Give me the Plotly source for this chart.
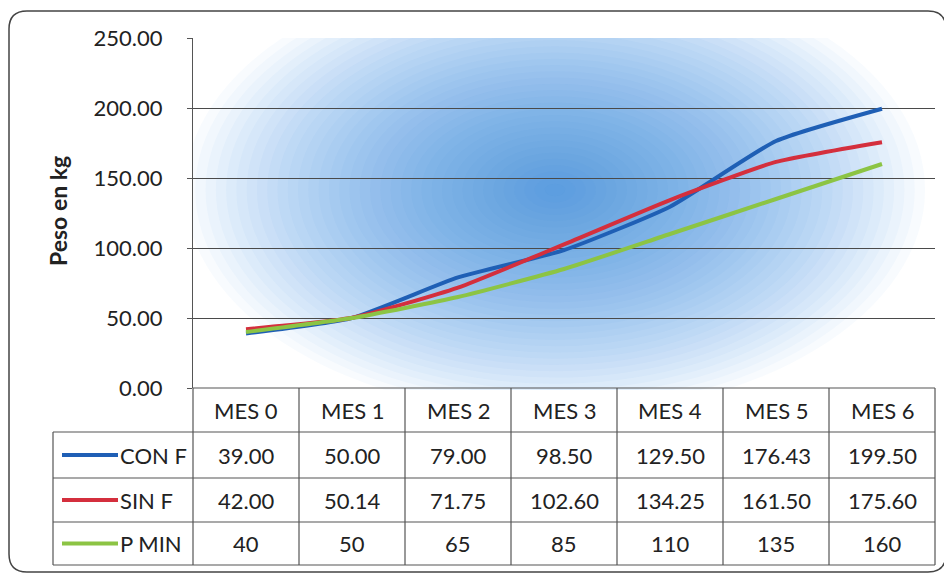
import plotly.graph_objects as go

# ---------------- data ----------------
categories = ["MES 0", "MES 1", "MES 2", "MES 3", "MES 4", "MES 5", "MES 6"]
con_f = [39.00, 50.00, 79.00, 98.50, 129.50, 176.43, 199.50]
sin_f = [42.00, 50.14, 71.75, 102.60, 134.25, 161.50, 175.60]
p_min = [40, 50, 65, 85, 110, 135, 160]
series_names = ["CON F", "SIN F", "P MIN"]
y_ticks = [0, 50, 100, 150, 200, 250]
y_title = "Peso en kg"

# ---------------- styling ----------------
W, H = 952, 576
OFF = 8   # page body margin offset
FONT = "Lato"
colors = ["#1f5fb5", "#d42f3d", "#8cc444"]
fmts = ["{:.2f}", "{:.2f}", "{:d}"]

def px(x):
    return (x - OFF) / W

def py(y):
    return 1 - (y - OFF) / H

PL, PR, PT, PB = 193, 935, 38, 388          # plot area in pixels
row_edges = [388, 432, 478, 522, 565]       # table rows
TL = 53                                      # table left edge (legend column)

fig = go.Figure()
all_series = [con_f, sin_f, p_min]
for name, vals, col in zip(series_names, all_series, colors):
    fig.add_trace(go.Scatter(
        x=categories, y=vals, name=name, mode="lines",
        line=dict(color=col, width=4, shape="spline", smoothing=0.5),
        showlegend=False, hoverinfo="x+y+name"))

shapes = []
# radial blue background glow
cx, cy, RX, RY, N = 555, 190, 370, 225, 36
for i in range(N, 0, -1):
    rx, ry = RX * i / N, RY * i / N
    shapes.append(dict(type="circle", xref="paper", yref="paper", layer="below",
                       x0=px(cx - rx), x1=px(cx + rx), y0=py(cy + ry), y1=py(cy - ry),
                       line=dict(width=0), fillcolor="rgba(35,130,215,0.03)"))
# white masks outside plot area
shapes.append(dict(type="rect", xref="paper", yref="paper", layer="below",
                   x0=-0.1, x1=1.1, y0=py(PB + 2), y1=-0.1, line=dict(width=0), fillcolor="white"))
shapes.append(dict(type="rect", xref="paper", yref="paper", layer="below",
                   x0=-0.1, x1=1.1, y0=1.1, y1=py(PT), line=dict(width=0), fillcolor="white"))
shapes.append(dict(type="rect", xref="paper", yref="paper", layer="below",
                   x0=-0.1, x1=px(PL), y0=-0.1, y1=1.1, line=dict(width=0), fillcolor="white"))
shapes.append(dict(type="rect", xref="paper", yref="paper", layer="below",
                   x0=px(PR), x1=1.1, y0=-0.1, y1=1.1, line=dict(width=0), fillcolor="white"))

# rounded outer border
x0b, x1b, y0b, y1b, r = 9, 946, 11, 572, 18
path = (f"M {px(x0b+r)},{py(y0b)} L {px(x1b-r)},{py(y0b)} "
        f"Q {px(x1b)},{py(y0b)} {px(x1b)},{py(y0b+r)} L {px(x1b)},{py(y1b-r)} "
        f"Q {px(x1b)},{py(y1b)} {px(x1b-r)},{py(y1b)} L {px(x0b+r)},{py(y1b)} "
        f"Q {px(x0b)},{py(y1b)} {px(x0b)},{py(y1b-r)} L {px(x0b)},{py(y0b+r)} "
        f"Q {px(x0b)},{py(y0b)} {px(x0b+r)},{py(y0b)} Z")
shapes.append(dict(type="path", xref="paper", yref="paper", path=path,
                   line=dict(color="#444444", width=1.5)))

# data table grid
lc = dict(color="#555555", width=1.2)
ncol = len(categories)
colw = (PR - PL) / ncol
for k, y in enumerate(row_edges):
    xs = PL if k == 0 else TL
    shapes.append(dict(type="line", xref="paper", yref="paper",
                       x0=px(xs), x1=px(PR), y0=py(y), y1=py(y), line=lc))
shapes.append(dict(type="line", xref="paper", yref="paper",
                   x0=px(TL), x1=px(TL), y0=py(row_edges[1]), y1=py(row_edges[-1]), line=lc))
for j in range(ncol + 1):
    xv = PL + j * colw
    shapes.append(dict(type="line", xref="paper", yref="paper",
                       x0=px(xv), x1=px(xv), y0=py(row_edges[0]), y1=py(row_edges[-1]), line=lc))

annotations = []
tfont = dict(family=FONT, size=22, color="#222222")
for j, c in enumerate(categories):
    xc = PL + (j + 0.5) * colw
    annotations.append(dict(xref="paper", yref="paper", x=px(xc),
                            y=py((row_edges[0] + row_edges[1]) / 2), text=c,
                            showarrow=False, font=tfont, xanchor="center", yanchor="middle"))
for r_i, (name, vals, col, fm) in enumerate(zip(series_names, all_series, colors, fmts)):
    yc = (row_edges[r_i + 1] + row_edges[r_i + 2]) / 2
    for j, v in enumerate(vals):
        xc = PL + (j + 0.5) * colw
        annotations.append(dict(xref="paper", yref="paper", x=px(xc), y=py(yc),
                                text=fm.format(v), showarrow=False, font=tfont,
                                xanchor="center", yanchor="middle"))
    shapes.append(dict(type="line", xref="paper", yref="paper",
                       x0=px(62), x1=px(118), y0=py(yc), y1=py(yc),
                       line=dict(color=col, width=4)))
    annotations.append(dict(xref="paper", yref="paper", x=px(118), y=py(yc), text=name,
                            showarrow=False, font=tfont, xanchor="left", yanchor="middle"))

annotations.append(dict(xref="paper", yref="paper", x=px(58), y=py((PT + PB) / 2 - 2),
                        text=f"<b>{y_title}</b>", textangle=-90, showarrow=False,
                        font=dict(family=FONT, size=23, color="#222222"),
                        xanchor="center", yanchor="middle"))

fig.update_layout(
    width=W, height=H,
    margin=dict(l=0, r=0, t=0, b=0, autoexpand=False),
    paper_bgcolor="white", plot_bgcolor="rgba(0,0,0,0)",
    shapes=shapes, annotations=annotations,
    xaxis=dict(domain=[px(PL), px(PR)], type="category", range=[-0.5, ncol - 0.5],
               showticklabels=False, showgrid=False, zeroline=False,
               showline=False, ticks="", automargin=False),
    yaxis=dict(domain=[py(PB), py(PT)], range=[0, 250], tickvals=y_ticks,
               tickformat=".2f", showgrid=True, gridcolor="#4a4a4a", gridwidth=1.2,
               zeroline=False, showline=True, linecolor="#555555", linewidth=1.2,
               ticks="outside", ticklen=5, tickcolor="#555555",
               ticklabelstandoff=20, automargin=False,
               tickfont=dict(family=FONT, size=22, color="#222222")),
    font=dict(family=FONT),
)

fig.write_html("out.html")
